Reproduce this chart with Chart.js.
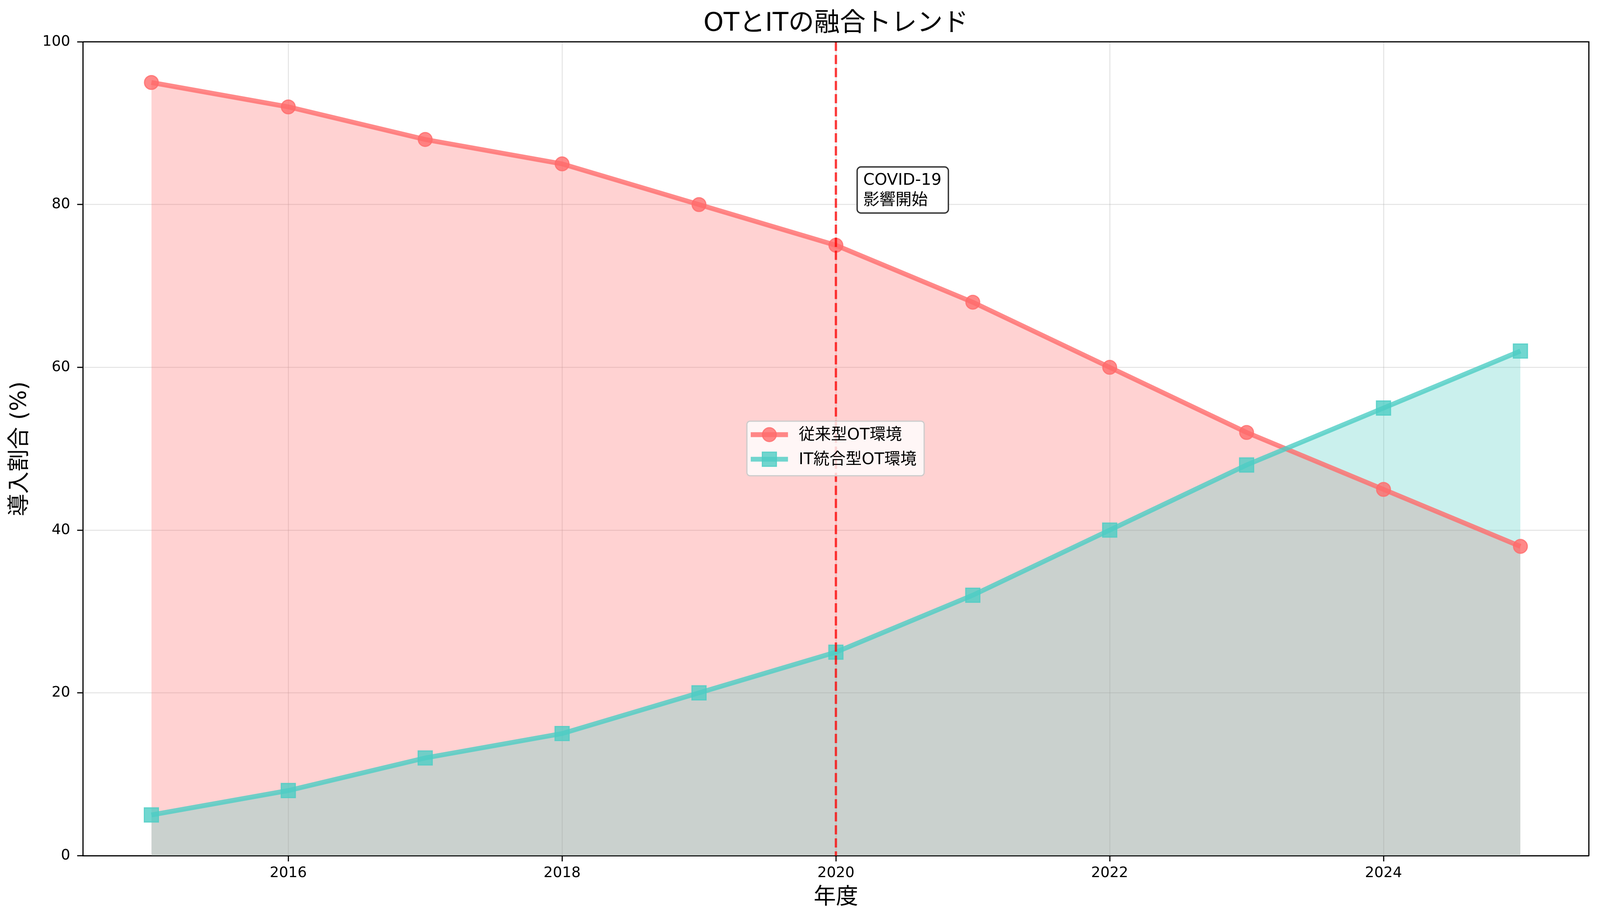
<!DOCTYPE html>
<html>
<head>
<meta charset="utf-8">
<script src="https://cdn.jsdelivr.net/npm/chart.js@4.4.1/dist/chart.umd.min.js"></script>
<style>
html, body { margin: 0; padding: 0; background: #fff; overflow: hidden; }
canvas { display: block; }
</style>
</head>
<body>
<canvas id="trendChart"></canvas>
<script>
const years = [2015, 2016, 2017, 2018, 2019, 2020, 2021, 2022, 2023, 2024, 2025];
const legacyOT = [95, 92, 88, 85, 80, 75, 68, 60, 52, 45, 38];
const integratedOT = [5, 8, 12, 15, 20, 25, 32, 40, 48, 55, 62];
const seriesNames = ['従来型OT環境', 'IT統合型OT環境'];
const xTicks = [2016, 2018, 2020, 2022, 2024];
const yTicks = [0, 20, 40, 60, 80, 100];
const covidYear = 2020;
const noteLines = ['COVID-19', '影響開始'];
const noteAt = { x: 2020.2, y: 80 };

const RED = 'rgba(255, 107, 107, 0.8)';
const TEAL = 'rgba(78, 205, 196, 0.8)';
const JP = '"DejaVu Sans", "Noto Sans CJK JP", sans-serif';

// size everything off the viewport (designed for 4167 x 2365)
const W = window.innerWidth || 4167;
const H = window.innerHeight || 2365;
const sx = W / 4167;
const sy = H / 2365;
const s = Math.min(sx, sy);

function toPoints(values) {
    return values.map((v, i) => ({ x: years[i], y: v }));
}

function roundRect(ctx, x, y, w, h, r) {
    ctx.beginPath();
    ctx.moveTo(x + r, y);
    ctx.lineTo(x + w - r, y);
    ctx.arcTo(x + w, y, x + w, y + r, r);
    ctx.lineTo(x + w, y + h - r);
    ctx.arcTo(x + w, y + h, x + w - r, y + h, r);
    ctx.lineTo(x + r, y + h);
    ctx.arcTo(x, y + h, x, y + h - r, r);
    ctx.lineTo(x, y + r);
    ctx.arcTo(x, y, x + r, y, r);
    ctx.closePath();
}

// covid line, frame, annotation box and the in-plot legend
const extrasPlugin = {
    id: 'extras',
    afterDatasetsDraw(chart) {
        const ctx = chart.ctx;
        const area = chart.chartArea;
        const px = chart.scales.x.getPixelForValue(covidYear);
        ctx.save();
        ctx.strokeStyle = 'rgba(255, 0, 0, 0.75)';
        ctx.lineWidth = 6 * s;
        ctx.setLineDash([24 * s, 10 * s]);
        ctx.beginPath();
        ctx.moveTo(px, area.top);
        ctx.lineTo(px, area.bottom);
        ctx.stroke();
        ctx.restore();
    },
    afterDraw(chart) {
        const ctx = chart.ctx;
        const area = chart.chartArea;
        const xs = chart.scales.x;
        const ys = chart.scales.y;

        // top and right spines
        ctx.save();
        ctx.strokeStyle = '#000';
        ctx.lineWidth = 3 * s;
        ctx.beginPath();
        ctx.moveTo(area.left, area.top);
        ctx.lineTo(area.right, area.top);
        ctx.lineTo(area.right, area.bottom);
        ctx.stroke();
        ctx.restore();

        // annotation
        ctx.save();
        ctx.font = (42 * s) + 'px ' + JP;
        const nx = xs.getPixelForValue(noteAt.x);
        const base2 = ys.getPixelForValue(noteAt.y);
        const base1 = base2 - 51 * s;
        const nw = Math.max(...noteLines.map(t => ctx.measureText(t).width));
        roundRect(ctx, nx - 16 * s, base1 - 47 * s, nw + 34 * s, base2 - base1 + 69 * s, 10 * s);
        ctx.fillStyle = '#fff';
        ctx.fill();
        ctx.strokeStyle = '#333';
        ctx.lineWidth = 3.5 * s;
        ctx.stroke();
        ctx.fillStyle = '#000';
        ctx.textBaseline = 'alphabetic';
        ctx.fillText(noteLines[0], nx, base1);
        ctx.fillText(noteLines[1], nx, base2);
        ctx.restore();

        // legend
        ctx.save();
        ctx.font = (42 * s) + 'px ' + JP;
        const bx = area.left + 0.4409 * (area.right - area.left);
        const by = area.top + 0.4662 * (area.bottom - area.top);
        const tw = Math.max(...seriesNames.map(t => ctx.measureText(t).width));
        const bw = 135 * s + tw + 20 * s;
        const bh = 142 * s;
        roundRect(ctx, bx, by, bw, bh, 8 * s);
        ctx.fillStyle = 'rgba(255, 255, 255, 0.8)';
        ctx.fill();
        ctx.strokeStyle = '#cccccc';
        ctx.lineWidth = 3 * s;
        ctx.stroke();
        chart.data.datasets.forEach((ds, i) => {
            const cy = by + (35 + i * 64) * s;
            const mx = bx + 58.5 * s;
            ctx.strokeStyle = ds.borderColor;
            ctx.lineWidth = ds.borderWidth;
            ctx.beginPath();
            ctx.moveTo(bx + 10 * s, cy);
            ctx.lineTo(bx + 107 * s, cy);
            ctx.stroke();
            ctx.fillStyle = ds.pointBackgroundColor;
            ctx.strokeStyle = ds.pointBorderColor;
            ctx.lineWidth = ds.pointBorderWidth;
            ctx.beginPath();
            if (ds.pointStyle === 'rect') {
                const h = ds.pointRadius / Math.SQRT2;
                ctx.rect(mx - h, cy - h, 2 * h, 2 * h);
            } else {
                ctx.arc(mx, cy, ds.pointRadius, 0, Math.PI * 2);
            }
            ctx.fill();
            ctx.stroke();
            ctx.fillStyle = '#000';
            ctx.textBaseline = 'middle';
            ctx.fillText(ds.label, bx + 135 * s, cy + 2 * s);
        });
        ctx.restore();
    }
};

const canvas = document.getElementById('trendChart');
canvas.width = W;
canvas.height = H;
const ctx = canvas.getContext('2d');

const gridStyle = {
    color: 'rgba(176, 176, 176, 0.35)',
    lineWidth: 2.5 * s,
    tickColor: '#000',
    tickLength: 15 * s,
    tickWidth: 3 * s
};

const trendChart = new Chart(ctx, {
    type: 'line',
    data: {
        datasets: [{
            label: seriesNames[0],
            data: toPoints(legacyOT),
            borderColor: RED,
            backgroundColor: 'rgba(255, 107, 107, 0.3)',
            fill: 'origin',
            borderWidth: 12.5 * s,
            pointStyle: 'circle',
            pointRadius: 18 * s,
            pointBackgroundColor: RED,
            pointBorderColor: RED,
            pointBorderWidth: 3 * s,
            tension: 0,
            order: 1
        }, {
            label: seriesNames[1],
            data: toPoints(integratedOT),
            borderColor: TEAL,
            backgroundColor: 'rgba(78, 205, 196, 0.3)',
            fill: 'origin',
            borderWidth: 12.5 * s,
            pointStyle: 'rect',
            pointRadius: 26 * s,
            pointBackgroundColor: TEAL,
            pointBorderColor: TEAL,
            pointBorderWidth: 3 * s,
            tension: 0,
            order: 0
        }]
    },
    options: {
        responsive: false,
        devicePixelRatio: 1,
        animation: false,
        layout: {
            padding: { left: 0, right: 29 * sx, top: 0, bottom: 0 }
        },
        plugins: {
            legend: { display: false },
            tooltip: { enabled: false },
            filler: { drawTime: 'beforeDatasetsDraw' },
            title: {
                display: true,
                fullSize: false,
                text: 'OTとITの融合トレンド',
                color: '#000',
                font: { family: JP, size: 67 * s, weight: 'normal' },
                padding: { top: 22 * sy, bottom: 107 * sy - 22 * sy - 67 * s * 1.2 }
            }
        },
        scales: {
            x: {
                type: 'linear',
                min: 2014.5,
                max: 2025.5,
                afterBuildTicks: scale => { scale.ticks = xTicks.map(v => ({ value: v })); },
                afterFit: scale => { scale.height = 175 * sy; },
                ticks: {
                    callback: v => String(v),
                    color: '#000',
                    font: { family: 'DejaVu Sans', size: 38 * s },
                    padding: 8 * s,
                    maxRotation: 0,
                    autoSkip: false
                },
                grid: gridStyle,
                border: { display: true, color: '#000', width: 3 * s },
                title: {
                    display: true,
                    text: '年度',
                    color: '#000',
                    font: { family: JP, size: 58 * s },
                    padding: { top: 0, bottom: 33 * sy }
                }
            },
            y: {
                min: 0,
                max: 100,
                afterBuildTicks: scale => { scale.ticks = yTicks.map(v => ({ value: v })); },
                afterFit: scale => { scale.width = 216 * sx; },
                ticks: {
                    callback: v => String(v),
                    color: '#000',
                    font: { family: 'DejaVu Sans', size: 38 * s },
                    padding: 18 * s
                },
                grid: gridStyle,
                border: { display: true, color: '#000', width: 3 * s },
                title: {
                    display: true,
                    text: '導入割合 (%)',
                    color: '#000',
                    font: { family: JP, size: 58 * s },
                    padding: { top: 18 * sx, bottom: 0 }
                }
            }
        }
    },
    plugins: [extrasPlugin]
});
</script>
</body>
</html>
